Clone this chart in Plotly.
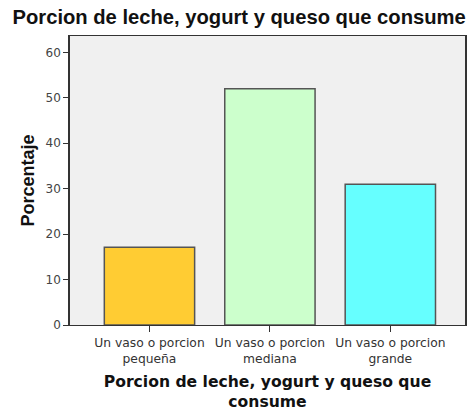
import plotly.graph_objects as go

categories = ["Un vaso o porcion<br>pequeña", "Un vaso o porcion<br>mediana", "Un vaso o porcion<br>grande"]
values = [17.1, 52.0, 31.0]
colors = ["#FFCC33", "#CCFFCC", "#66FFFF"]
y_ticks = [0, 10, 20, 30, 40, 50, 60]

fig = go.Figure(go.Bar(
    x=list(range(len(categories))), y=values, width=0.75,
    marker=dict(color=colors, line=dict(color="#555555", width=1.5)),
))

fig.update_layout(
    width=469, height=411,
    margin=dict(l=70, r=2, t=36, b=86),
    paper_bgcolor="white", plot_bgcolor="#F0F0F0",
    font=dict(family="DejaVu Sans", color="#333333"),
    title=dict(text="<b>Porcion de leche, yogurt y queso que consume</b>",
               x=0.993, xanchor="right", y=0.975, yanchor="top",
               font=dict(family="Liberation Sans, Arial", size=20.2, color="#111111")),
    showlegend=False,
)
fig.update_xaxes(
    range=[-0.66, 2.62], tickmode="array", tickvals=list(range(len(categories))),
    ticktext=categories, ticks="outside", ticklen=6, tickcolor="#333333",
    tickfont=dict(family="DejaVu Sans", size=12.3, color="#333333"),
    showgrid=False, zeroline=False, showline=True, linecolor="#333333", linewidth=1, mirror=True,
    title=dict(text="<b>Porcion de leche, yogurt y queso que<br>consume</b>",
               font=dict(family="DejaVu Sans", size=15.6, color="#111111"), standoff=12),
)
fig.update_yaxes(
    range=[0, 63.6], tickvals=y_ticks, ticks="outside", ticklen=5, tickcolor="#333333",
    tickfont=dict(family="DejaVu Sans", size=12, color="#444444"),
    showgrid=False, zeroline=False, showline=True, linecolor="#333333", linewidth=1.5, mirror=True,
    title=dict(text="<b>Porcentaje</b>", font=dict(family="Liberation Sans, Arial", size=18, color="#111111"), standoff=6),
)

fig.write_html("out.html", config={"displayModeBar": False},
               post_script="document.body.style.margin='0';")
